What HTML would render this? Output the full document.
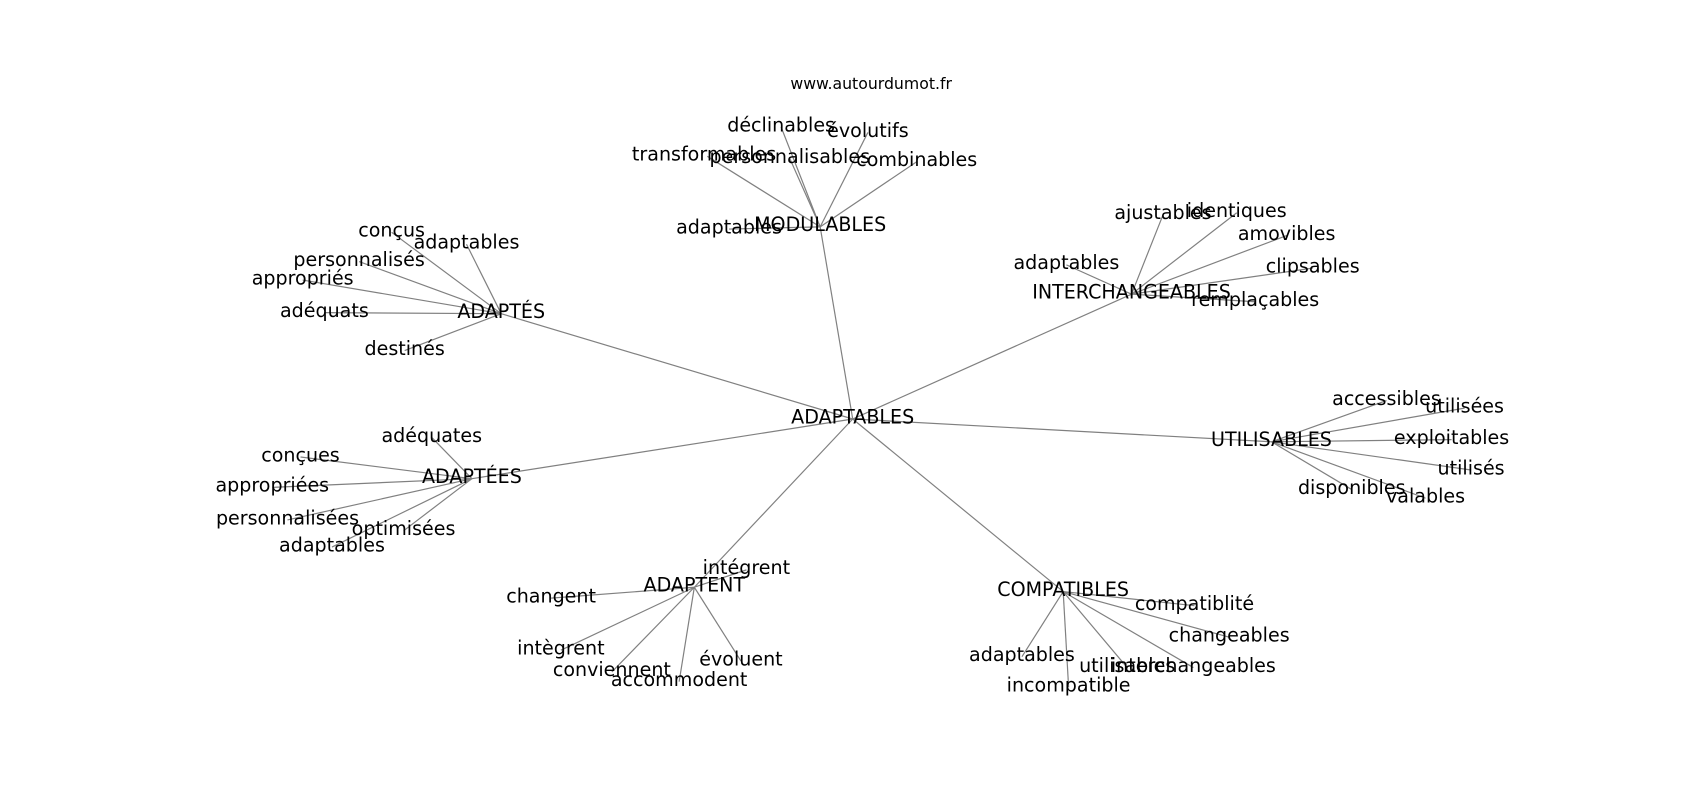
<!DOCTYPE html>
<html><head><meta charset="utf-8"><style>
html,body{margin:0;padding:0;background:#fff;width:1700px;height:800px;overflow:hidden}
svg{display:block}
text{font-family:"DejaVu Sans","Liberation Sans",sans-serif;font-size:17.6px;fill:#000;text-anchor:middle;dominant-baseline:central}
line{stroke:#808080;stroke-width:1.1}
</style></head><body>
<svg width="1700" height="800" viewBox="0 0 1567 737" preserveAspectRatio="none">
<g>
<line x1="786" y1="386" x2="756" y2="209"/>
<line x1="786" y1="386" x2="1043" y2="271"/>
<line x1="786" y1="386" x2="462" y2="289"/>
<line x1="786" y1="386" x2="435" y2="441"/>
<line x1="786" y1="386" x2="1172" y2="407"/>
<line x1="786" y1="386" x2="640" y2="541"/>
<line x1="786" y1="386" x2="980" y2="545"/>

<line x1="756" y1="209" x2="672" y2="211"/>
<line x1="756" y1="209" x2="720" y2="117"/>
<line x1="756" y1="209" x2="800" y2="122"/>
<line x1="756" y1="209" x2="652" y2="144"/>
<line x1="756" y1="209" x2="728" y2="146"/>
<line x1="756" y1="209" x2="845" y2="149"/>

<line x1="1043" y1="271" x2="1072" y2="198"/>
<line x1="1043" y1="271" x2="1140" y2="196"/>
<line x1="1043" y1="271" x2="1186" y2="217"/>
<line x1="1043" y1="271" x2="983" y2="244"/>
<line x1="1043" y1="271" x2="1210" y2="247"/>
<line x1="1043" y1="271" x2="1157" y2="278"/>

<line x1="462" y1="289" x2="361" y2="214"/>
<line x1="462" y1="289" x2="430" y2="225"/>
<line x1="462" y1="289" x2="331" y2="241"/>
<line x1="462" y1="289" x2="279" y2="258"/>
<line x1="462" y1="289" x2="299" y2="288"/>
<line x1="462" y1="289" x2="373" y2="323"/>

<line x1="435" y1="441" x2="398" y2="403"/>
<line x1="435" y1="441" x2="277" y2="421"/>
<line x1="435" y1="441" x2="251" y2="449"/>
<line x1="435" y1="441" x2="265" y2="479"/>
<line x1="435" y1="441" x2="372" y2="489"/>
<line x1="435" y1="441" x2="306" y2="504"/>

<line x1="1172" y1="407" x2="1278" y2="369"/>
<line x1="1172" y1="407" x2="1350" y2="376"/>
<line x1="1172" y1="407" x2="1338" y2="405"/>
<line x1="1172" y1="407" x2="1356" y2="433"/>
<line x1="1172" y1="407" x2="1246" y2="451"/>
<line x1="1172" y1="407" x2="1314" y2="459"/>

<line x1="640" y1="541" x2="688" y2="525"/>
<line x1="640" y1="541" x2="508" y2="551"/>
<line x1="640" y1="541" x2="517" y2="599"/>
<line x1="640" y1="541" x2="564" y2="619"/>
<line x1="640" y1="541" x2="626" y2="628"/>
<line x1="640" y1="541" x2="683" y2="609"/>

<line x1="980" y1="545" x2="1101" y2="558"/>
<line x1="980" y1="545" x2="1133" y2="587"/>
<line x1="980" y1="545" x2="942" y2="605"/>
<line x1="980" y1="545" x2="1039" y2="615"/>
<line x1="980" y1="545" x2="1100" y2="615"/>
<line x1="980" y1="545" x2="985" y2="633"/>
</g>
<g>
<text x="803" y="77" style="font-size:14.5px">www.autourdumot.fr</text>
<text x="786" y="384">ADAPTABLES</text>
<text x="756" y="207">MODULABLES</text>
<text x="672" y="209">adaptables</text>
<text x="720" y="115">déclinables</text>
<text x="800" y="120">évolutifs</text>
<text x="649" y="142">transformables</text>
<text x="728" y="144">personnalisables</text>
<text x="845" y="147">combinables</text>

<text x="1043" y="269">INTERCHANGEABLES</text>
<text x="1072" y="196">ajustables</text>
<text x="1140" y="194">identiques</text>
<text x="1186" y="215">amovibles</text>
<text x="983" y="242">adaptables</text>
<text x="1210" y="245">clipsables</text>
<text x="1157" y="276">remplaçables</text>

<text x="462" y="287">ADAPTÉS</text>
<text x="361" y="212">conçus</text>
<text x="430" y="223">adaptables</text>
<text x="331" y="239">personnalisés</text>
<text x="279" y="256">appropriés</text>
<text x="299" y="286">adéquats</text>
<text x="373" y="321">destinés</text>

<text x="435" y="439">ADAPTÉES</text>
<text x="398" y="401">adéquates</text>
<text x="277" y="419">conçues</text>
<text x="251" y="447">appropriées</text>
<text x="265" y="477">personnalisées</text>
<text x="372" y="487">optimisées</text>
<text x="306" y="502">adaptables</text>

<text x="1172" y="405">UTILISABLES</text>
<text x="1278" y="367">accessibles</text>
<text x="1350" y="374">utilisées</text>
<text x="1338" y="403">exploitables</text>
<text x="1356" y="431">utilisés</text>
<text x="1246" y="449">disponibles</text>
<text x="1314" y="457">valables</text>

<text x="640" y="539">ADAPTENT</text>
<text x="688" y="523">intégrent</text>
<text x="508" y="549">changent</text>
<text x="517" y="597">intègrent</text>
<text x="564" y="617">conviennent</text>
<text x="626" y="626">accommodent</text>
<text x="683" y="607">évoluent</text>

<text x="980" y="543">COMPATIBLES</text>
<text x="1101" y="556">compatiblité</text>
<text x="1133" y="585">changeables</text>
<text x="942" y="603">adaptables</text>
<text x="1039" y="613">utilisables</text>
<text x="1100" y="613">interchangeables</text>
<text x="985" y="631">incompatible</text>
</g>
</svg>
</body></html>
